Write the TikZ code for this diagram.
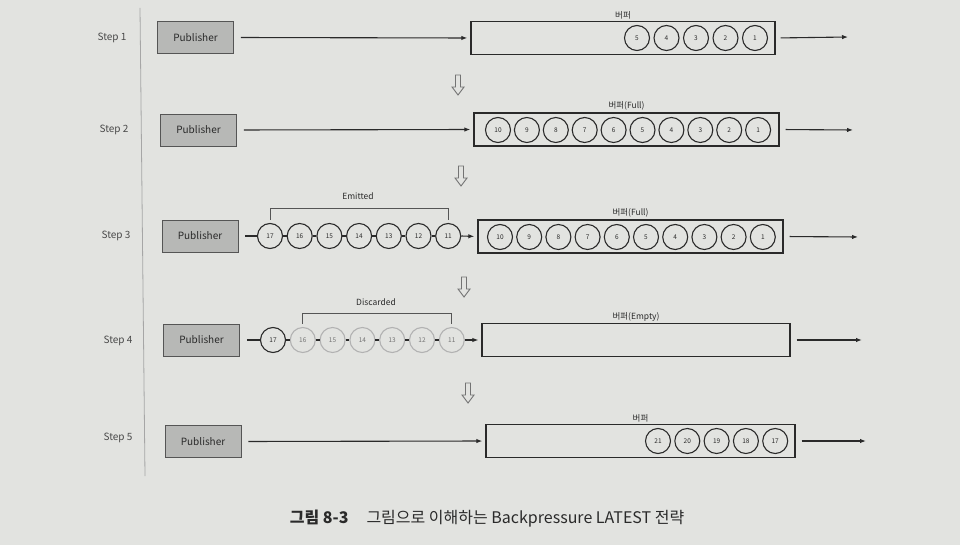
\documentclass[tikz,border=0pt]{standalone}
\usepackage{fontspec}
\setmainfont{Noto Sans CJK KR}
\usetikzlibrary{arrows.meta}
\definecolor{paper}{HTML}{E2E3E0}
\definecolor{pubgray}{HTML}{B7B8B6}
\definecolor{ink}{HTML}{2A2A2A}
\tikzset{
  pub/.style={draw=ink!80, fill=pubgray, line width=0.8pt, minimum width=76pt, minimum height=32pt, inner sep=0pt, font=\fontsize{10}{11}\selectfont, text=ink},
  buf/.style={draw=ink, line width=1.4pt, minimum height=33pt, inner sep=0pt},
  ball/.style={circle, draw=ink, line width=1.1pt, fill=paper, minimum size=25pt, inner sep=0pt, font=\fontsize{6.5}{7}\selectfont, text=ink},
  gball/.style={ball, draw=black!30, text=black!55},
  arr/.style={-{Latex[length=6pt,width=4.5pt]}, line width=1.1pt, draw=ink},
  link/.style={line width=1.1pt, draw=ink},
  steplbl/.style={font=\fontsize{10}{11}\selectfont, text=ink!85},
  buflbl/.style={font=\fontsize{8.5}{9}\selectfont, text=ink, inner sep=1.5pt},
  brk/.style={line width=0.8pt, draw=ink!80},
  darrow/.pic={\draw[black!55, line width=0.9pt, fill=paper] (-2.5,0) -- (2.5,0) -- (2.5,12) -- (6,12) -- (0,20) -- (-6,12) -- (-2.5,12) -- cycle;}
}
\begin{document}
\begin{tikzpicture}[x=1pt,y=-1pt]
\fill[paper] (0,0) rectangle (960,545);
\useasboundingbox (0,0) rectangle (960,545);
% vertical separator
\draw[black!35, line width=0.8pt] (140,8) -- (145,476);

% ---------------- Step 1
\node[steplbl] (s1) at (112,38) {Step 1};
\node[pub] (p1) at (195.5,37.5) {Publisher};
\node[buf, minimum width=304pt] (b1) at (623,38) {};
\node[buflbl, above] (l1) at (b1.north) {버퍼};
\foreach \n [count=\i from 0] in {5,4,3,2,1}
  \node[ball] (c1-\n) at (637+29.5*\i,38) {\n};
\coordinate (o1) at (848,37);
\draw[arr, shorten <=7pt, shorten >=3pt] (p1.east) -- (b1.west);
\draw[arr, shorten <=5pt] (b1.east) -- (o1);
\pic at (458,75) {darrow};

% ---------------- Step 2
\node[steplbl] (s2) at (114,130) {Step 2};
\node[pub] (p2) at (198.5,130) {Publisher};
\node[buf, minimum width=305pt] (b2) at (626.5,129.5) {};
\node[buflbl, above] (l2) at (b2.north) {버퍼(Full)};
\foreach \n [count=\i from 0] in {10,9,8,7,6,5,4,3,2,1}
  \node[ball] (c2-\n) at (498+28.9*\i,130) {\n};
\coordinate (o2) at (853,130);
\draw[arr, shorten <=7pt, shorten >=3pt] (p2.east) -- (b2.west);
\draw[arr, shorten <=6pt] (b2.east) -- (o2);
\pic at (461,166) {darrow};

% ---------------- Step 3
\node[steplbl] (s3) at (116,236) {Step 3};
\node[pub] (p3) at (200,236) {Publisher};
\node[buf, minimum width=305pt] (b3) at (630.5,236.5) {};
\node[buflbl, above] (l3) at (b3.north) {버퍼(Full)};
\foreach \n [count=\i from 0] in {10,9,8,7,6,5,4,3,2,1}
  \node[ball] (c3b-\n) at (500+29.2*\i,237) {\n};
\foreach \n [count=\i from 0] in {17,16,15,14,13,12,11}
  \node[ball] (c3-\n) at (270+29.7*\i,236) {\n};
\draw[link, shorten <=7pt] (p3.east) -- (c3-17.west);
\foreach \a/\b in {17/16,16/15,15/14,14/13,13/12,12/11}
  \draw[link] (c3-\a.east) -- (c3-\b.west);
\draw[arr, shorten >=3pt] (c3-11.east) -- (b3.west);
\coordinate (o3) at (858,237);
\draw[arr, shorten <=6pt] (b3.east) -- (o3);
\draw[brk] ([yshift=3pt]c3-17.north) -- ([yshift=15pt]c3-17.north) -- ([yshift=15pt]c3-11.north) -- ([yshift=3pt]c3-11.north);
\node[buflbl] (e3) at (358,196) {Emitted};
\pic at (464,277) {darrow};

% ---------------- Step 4
\node[steplbl] (s4) at (118,341) {Step 4};
\node[pub] (p4) at (201.5,340) {Publisher};
\node[buf, minimum width=308pt] (b4) at (636,340) {};
\node[buflbl, above] (l4) at (b4.north) {버퍼(Empty)};
\node[ball] (c4-17) at (273,340) {17};
\foreach \n [count=\i from 1] in {16,15,14,13,12,11}
  \node[gball] (c4-\n) at (273+29.8*\i,340) {\n};
\draw[link, shorten <=7pt] (p4.east) -- (c4-17.west);
\foreach \a/\b in {17/16,16/15,15/14,14/13,13/12,12/11}
  \draw[link] (c4-\a.east) -- (c4-\b.west);
\draw[arr, shorten >=3pt] (c4-11.east) -- (b4.west);
\coordinate (o4) at (862,340);
\draw[arr, shorten <=6pt] (b4.east) -- (o4);
\draw[brk] ([yshift=3pt]c4-16.north) -- ([yshift=14pt]c4-16.north) -- ([yshift=14pt]c4-11.north) -- ([yshift=3pt]c4-11.north);
\node[buflbl] (e4) at (376,302) {Discarded};
\pic at (468,383) {darrow};

% ---------------- Step 5
\node[steplbl] (s5) at (118,438) {Step 5};
\node[pub] (p5) at (203,441.5) {Publisher};
\node[buf, minimum width=309pt] (b5) at (640.5,441) {};
\node[buflbl, above] (l5) at (b5.north) {버퍼};
\foreach \n [count=\i from 0] in {21,20,19,18,17}
  \node[ball] (c5-\n) at (658+29.3*\i,441) {\n};
\draw[arr, shorten <=7pt, shorten >=3pt] (p5.east) -- (b5.west);
\coordinate (o5) at (866,441);
\draw[arr, shorten <=6pt] (b5.east) -- (o5);

% caption
\node[font=\fontsize{16}{18}\selectfont, text=ink] (cap) at (487,519) {\textbf{그림 8-3}\hspace{18pt}그림으로 이해하는 Backpressure LATEST 전략};
\end{tikzpicture}
\end{document}
